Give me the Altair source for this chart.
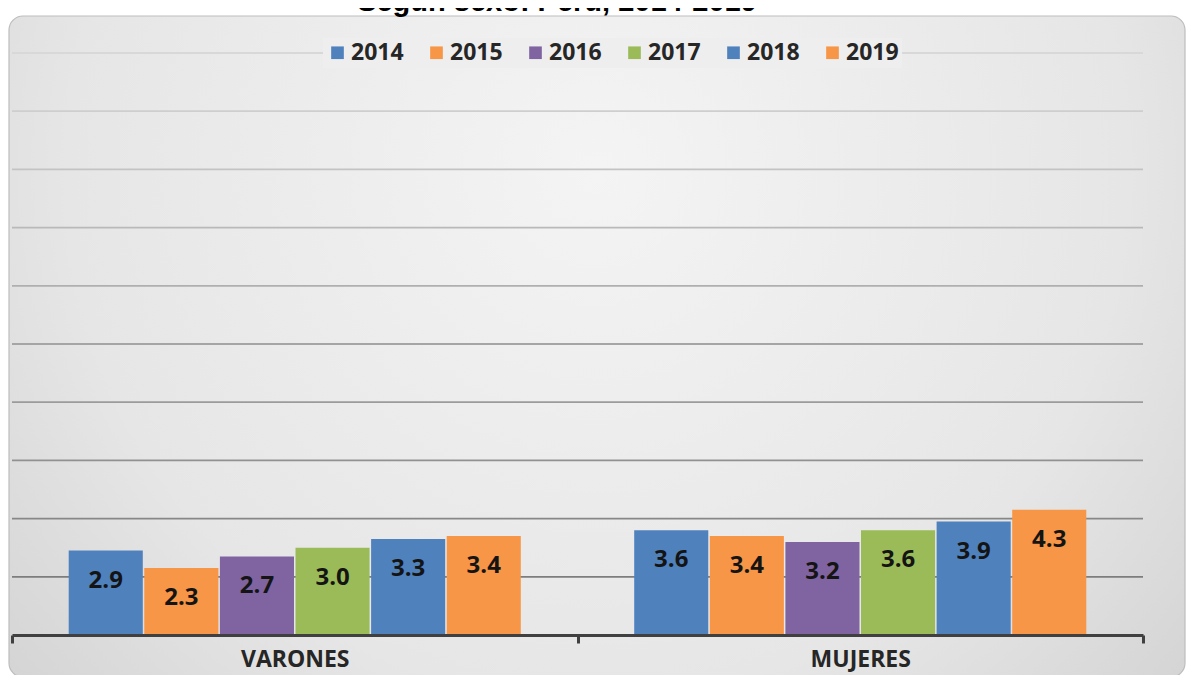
import altair as alt
import pandas as pd

categories = ["VARONES", "MUJERES"]
years = ["2014", "2015", "2016", "2017", "2018", "2019"]
varones = [2.9, 2.3, 2.7, 3.0, 3.3, 3.4]
mujeres = [3.6, 3.4, 3.2, 3.6, 3.9, 4.3]
colors = ["#4F81BD", "#F79646", "#8064A2", "#9BBB59", "#4F81BD", "#F79646"]
grid_values = [2, 4, 6, 8, 10, 12, 14, 16, 18, 20]
title_text = "Según sexo: Perú, 2014-2019"

rows = []
for cat, vals in zip(categories, [varones, mujeres]):
    for yr, v in zip(years, vals):
        rows.append({"sexo": cat, "year": yr, "value": v})
df = pd.DataFrame(rows)

W, H = 1131, 582
FONT = "Open Sans"

bg = alt.Chart(alt.Data(values=[{}])).mark_rect(
    cornerRadius=14,
    fill={
        "gradient": "radial",
        "x1": 0.5, "y1": 0.35, "r1": 0.0,
        "x2": 0.5, "y2": 0.35, "r2": 0.75,
        "stops": [
            {"offset": 0.0, "color": "#f4f4f4"},
            {"offset": 0.6, "color": "#e6e6e6"},
            {"offset": 1.0, "color": "#cdcdcd"},
        ],
    },
    stroke="#bdbdbd",
    strokeWidth=1.2,
).encode(x=alt.value(-3), x2=alt.value(1173), y=alt.value(-37), y2=alt.value(624))

grid = alt.Chart(pd.DataFrame({"v": grid_values})).mark_rule(strokeWidth=1.8).encode(
    y=alt.Y("v:Q", scale=alt.Scale(domain=[0, 20]), axis=None),
    x=alt.value(0),
    x2=alt.value(W),
    stroke=alt.Stroke("v:Q", scale=alt.Scale(domain=[0, 20], range=["#747474", "#d8d8d8"]), legend=None),
)

base = alt.Chart(df).encode(
    x=alt.X(
        "sexo:N",
        sort=categories,
        scale=alt.Scale(paddingInner=0, paddingOuter=0),
        axis=alt.Axis(
            title=None, labelAngle=0, grid=False,
            domainColor="#404040", domainWidth=3,
            tickColor="#404040", tickWidth=3, tickSize=8, tickBand="extent",
            labelFont=FONT, labelFontSize=23, labelFontWeight="bold",
            labelColor="#262626", labelPadding=5, zindex=1,
        ),
    ),
    xOffset=alt.XOffset("year:N", sort=years, scale=alt.Scale(paddingInner=0.02, paddingOuter=0.75)),
    y=alt.Y("value:Q", scale=alt.Scale(domain=[0, 20]), axis=None),
)

bars = base.mark_bar().encode(
    color=alt.Color(
        "year:N",
        sort=years,
        scale=alt.Scale(domain=years, range=colors),
        legend=alt.Legend(
            title=None, orient="none", direction="horizontal",
            legendX=311, legendY=-15,
            symbolType="square", symbolSize=160, symbolStrokeWidth=0,
            labelFont=FONT, labelFontSize=23, labelFontWeight="bold",
            labelColor="#262626", labelOffset=2, columnPadding=21,
            fillColor="#eeeeee", padding=3,
        ),
    )
)

labels = base.mark_text(
    font=FONT, fontSize=24, fontWeight="bold", color="#141414",
    baseline="middle", dy=30,
).encode(text=alt.Text("value:Q", format=".1f"))

title = alt.Chart(alt.Data(values=[{}])).mark_text(
    text=title_text, font="Liberation Sans", fontSize=29, fontWeight="bold",
    baseline="alphabetic", align="center", color="#000000",
).encode(x=alt.value(545), y=alt.value(-42))

chart = alt.layer(bg, grid, bars, labels, title).properties(
    width=W,
    height=H,
    padding={"left": 4, "top": 45, "right": 43, "bottom": 40},
    autosize=alt.AutoSizeParams(type="none"),
).configure_view(stroke=None)

chart.save("out.html", embed_options={"renderer": "svg", "actions": False})
